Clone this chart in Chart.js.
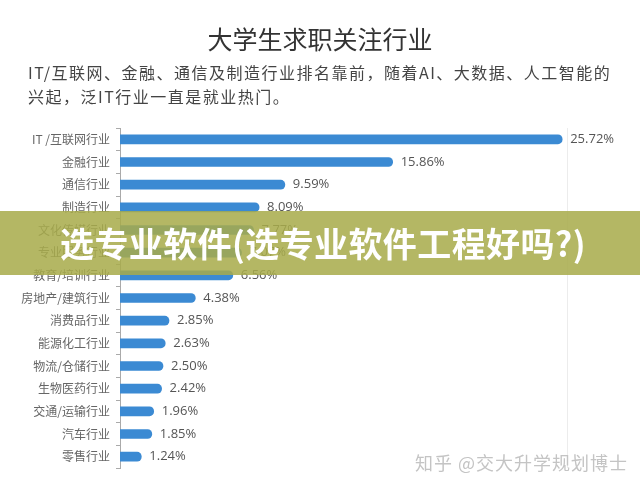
<!DOCTYPE html>
<html>
<head>
<meta charset="utf-8">
<script src="https://cdn.jsdelivr.net/npm/chart.js@4/dist/chart.umd.min.js"></script>
<style>
  html, body { margin: 0; padding: 0; background: #fff; }
  #wrap { position: relative; width: 640px; height: 489px; overflow: hidden; font-family: "Noto Sans CJK SC", sans-serif; }
  #chart { position: absolute; left: 0; top: 0; }
  .title { position: absolute; left: 0; width: 640px; top: 20px; text-align: center; font-size: 25px; color: #333; line-height: 36px; }
  .sub { position: absolute; left: 28px; top: 60px; width: 610px; font-size: 16px; letter-spacing: 1.5px; color: #444; line-height: 24px; }
  .banner { position: absolute; left: 0; top: 211px; width: 640px; height: 64px; background: rgba(168,171,75,0.86); }
  .banner span { position: absolute; left: 60px; top: 9px; font-size: 34px; letter-spacing: 0.4px; font-weight: 700; color: #fff; line-height: 46px; }
  .mark { position: absolute; left: 415px; top: 449px; font-size: 18px; letter-spacing: 1px; color: #c4c4c4; line-height: 26px; }
</style>
</head>
<body>
<div id="wrap">
  <canvas id="chart" width="640" height="489"></canvas>
  <div class="title">大学生求职关注行业</div>
  <div class="sub">IT/互联网、金融、通信及制造行业排名靠前，随着AI、大数据、人工智能的<br>兴起，泛IT行业一直是就业热门。</div>
  <div class="banner"><span>选专业软件(选专业软件工程好吗?)</span></div>
  <div class="mark">知乎 @交大升学规划博士</div>
</div>
<script>
// 行业与占比 (%)
const industries = ['IT /互联网行业', '金融行业', '通信行业', '制造行业', '文化传媒行业', '专业服务行业',
  '教育/培训行业', '房地产/建筑行业', '消费品行业', '能源化工行业', '物流/仓储行业', '生物医药行业',
  '交通/运输行业', '汽车行业', '零售行业'];
const shares = [25.72, 15.86, 9.59, 8.09, 7.77, 7.07, 6.56, 4.38, 2.85, 2.63, 2.50, 2.42, 1.96, 1.85, 1.24];
const axisMax = 26;

// 在长条末端写数值
const valueLabels = {
  id: 'valueLabels',
  afterDatasetsDraw(chart) {
    const ctx = chart.ctx;
    const meta = chart.getDatasetMeta(0);
    ctx.save();
    ctx.font = '13px "Open Sans", "Noto Sans", sans-serif';
    ctx.fillStyle = '#555';
    ctx.textBaseline = 'middle';
    meta.data.forEach((bar, i) => {
      ctx.fillText(shares[i].toFixed(2) + '%', bar.x + 8, bar.y);
    });
    ctx.restore();
  }
};

new Chart(document.getElementById('chart'), {
  type: 'bar',
  data: {
    labels: industries,
    datasets: [{
      data: shares,
      backgroundColor: '#3b8ad3',
      barThickness: 9,
      borderSkipped: 'start',
      borderRadius: { topRight: 5, bottomRight: 5, topLeft: 0, bottomLeft: 0 }
    }]
  },
  options: {
    indexAxis: 'y',
    responsive: false,
    animation: false,
    layout: { padding: { top: 128, bottom: 21, left: 0, right: 73 } },
    plugins: { legend: { display: false }, tooltip: { enabled: false } },
    scales: {
      x: {
        min: 0, max: axisMax,
        afterBuildTicks: s => { s.ticks = [{ value: axisMax }]; },
        ticks: { display: false },
        border: { display: false },
        grid: { color: '#ececec', drawTicks: false }
      },
      y: {
        afterFit: s => { s.width = 120; },
        ticks: { color: '#666', padding: 6, font: { family: '"Noto Sans CJK SC"', size: 12 } },
        border: { color: '#aaa' },
        grid: { drawOnChartArea: false, tickLength: 4, color: '#aaa' }
      }
    }
  },
  plugins: [valueLabels]
});
</script>
</body>
</html>
